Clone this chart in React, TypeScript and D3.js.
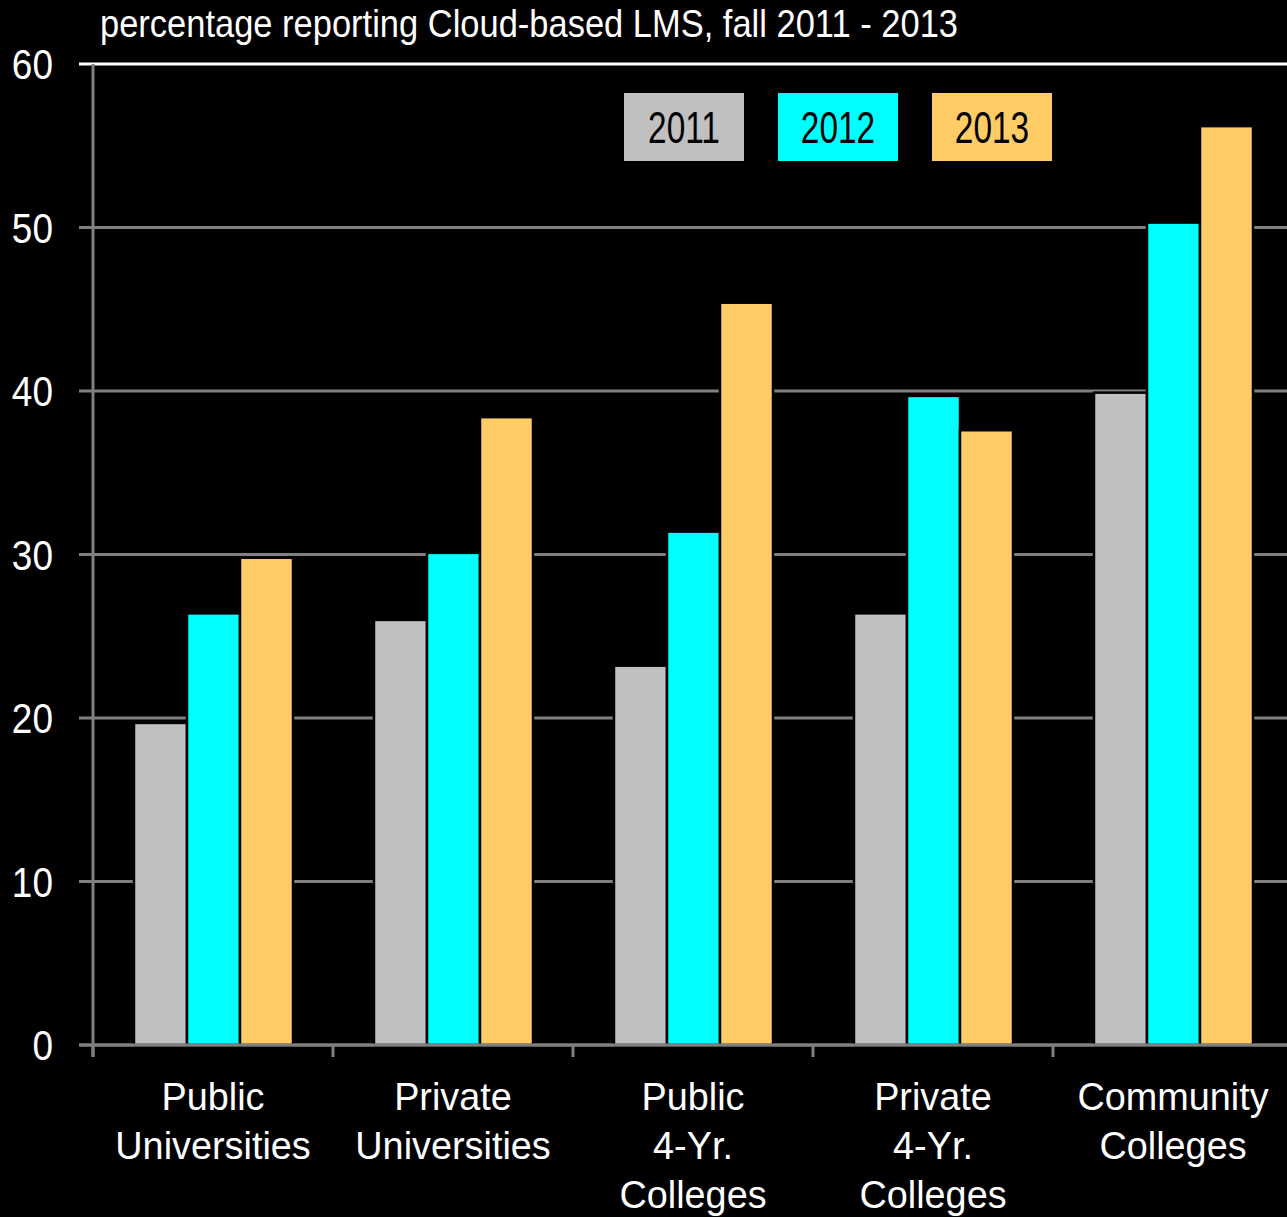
import React from "react";
import * as d3 from "d3";

const categories = [
  ["Public", "Universities"],
  ["Private", "Universities"],
  ["Public", "4-Yr.", "Colleges"],
  ["Private", "4-Yr.", "Colleges"],
  ["Community", "Colleges"],
];
const seriesNames = ["2011", "2012", "2013"];
const values2011 = [19.7, 26.0, 23.2, 26.4, 39.9];
const values2012 = [26.4, 30.1, 31.4, 39.7, 50.3];
const values2013 = [29.8, 38.4, 45.4, 37.6, 56.2];
const yTicks = [0, 10, 20, 30, 40, 50, 60];
const colors = ["#C0C0C0", "#00FFFF", "#FFCC66"];

const W = 1287;
const H = 1217;
const FONT = "'Liberation Sans', Arial, sans-serif";

function SText(props: {
  x: number;
  y: number;
  sx: number;
  size: number;
  anchor?: string;
  fill: string;
  children: React.ReactNode;
}) {
  return (
    <text
      transform={`translate(${props.x},${props.y}) scale(${props.sx},1)`}
      textAnchor={props.anchor || "start"}
      fill={props.fill}
      fontFamily={FONT}
      fontSize={props.size}
    >
      {props.children}
    </text>
  );
}

export default function App() {
  const left = 93;
  const right = 1293;
  const top = 64;
  const bottom = 1045;
  const series = [values2011, values2012, values2013];
  const x0 = d3
    .scaleBand<number>()
    .domain(d3.range(categories.length))
    .range([left, right])
    .padding(0);
  const x1 = d3
    .scaleBand<number>()
    .domain(d3.range(3))
    .range([41, 41 + 159])
    .padding(0);
  const y = d3.scaleLinear().domain([0, 60]).range([bottom, top]);

  return (
    <svg
      width={W}
      height={H}
      style={{ display: "block", position: "absolute", left: 0, top: 0, background: "#000" }}
    >
      <rect x={0} y={0} width={W} height={H} fill="#000" />
      <text
        x={100}
        y={37}
        fill="#fff"
        fontFamily={FONT}
        fontSize={39}
        textLength={858}
        lengthAdjust="spacingAndGlyphs"
      >
        percentage reporting Cloud-based LMS, fall 2011 - 2013
      </text>
      {yTicks.map((t) => (
        <g key={t}>
          <line
            x1={left - 14}
            x2={W}
            y1={y(t)}
            y2={y(t)}
            stroke={t === 60 ? "#ffffff" : "#808080"}
            strokeWidth={3}
          />
          <SText x={53} y={y(t) + 15} sx={0.86} size={43} anchor="end" fill="#fff">
            {t}
          </SText>
        </g>
      ))}
      {categories.map((c, i) =>
        series.map((s, j) => (
          <rect
            key={`${i}-${j}`}
            x={(x0(i) as number) + (x1(j) as number)}
            y={y(s[i])}
            width={x1.bandwidth()}
            height={bottom - y(s[i])}
            fill={colors[j]}
            stroke="#000"
            strokeWidth={2.5}
          />
        ))
      )}
      <line x1={left} x2={left} y1={top} y2={bottom + 12} stroke="#808080" strokeWidth={3} />
      <line x1={left - 14} x2={W} y1={bottom} y2={bottom} stroke="#808080" strokeWidth={3} />
      {d3.range(categories.length).map((i) => (
        <line
          key={i}
          x1={x0(i) as number}
          x2={x0(i) as number}
          y1={bottom}
          y2={bottom + 12}
          stroke="#808080"
          strokeWidth={3}
        />
      ))}
      {categories.map((c, i) =>
        c.map((line, k) => (
          <SText
            key={`${i}-${k}`}
            x={(x0(i) as number) + 120}
            y={1110 + k * 49}
            sx={0.97}
            size={39}
            anchor="middle"
            fill="#fff"
          >
            {line}
          </SText>
        ))
      )}
      {seriesNames.map((n, j) => {
        const lx = 624 + j * 154;
        const ly = 93;
        return (
          <g key={n}>
            <rect x={lx} y={ly} width={120} height={68} fill={colors[j]} />
            <SText x={lx + 60} y={ly + 50} sx={0.76} size={44} anchor="middle" fill="#000">
              {n}
            </SText>
          </g>
        );
      })}
    </svg>
  );
}
